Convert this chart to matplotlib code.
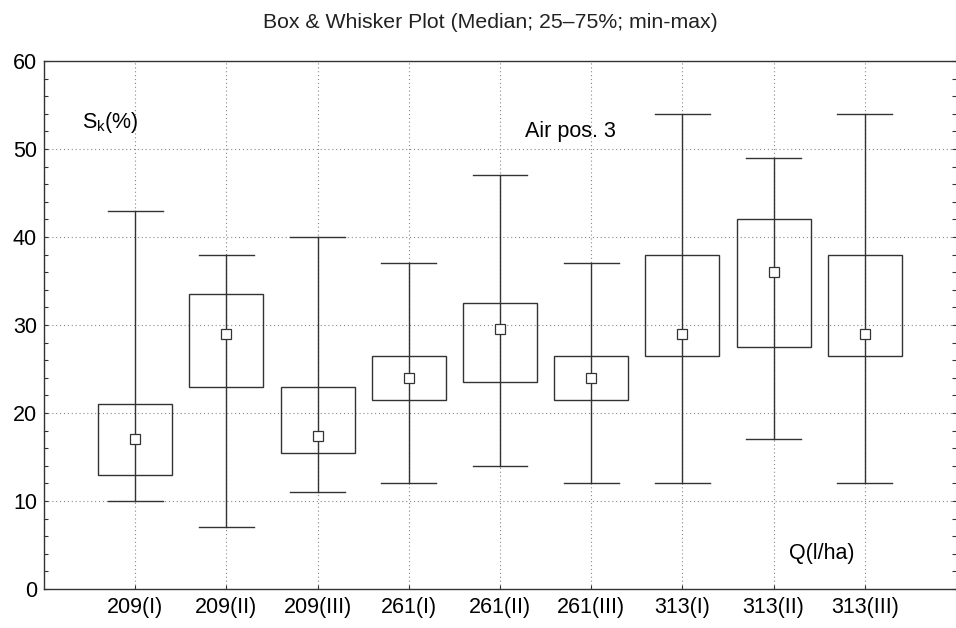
import matplotlib
matplotlib.use("Agg")
import matplotlib.pyplot as plt
from matplotlib.patches import Rectangle
from matplotlib.ticker import MultipleLocator

plt.rcParams['font.family'] = ['Liberation Sans', 'DejaVu Sans']

categories = ["209(I)", "209(II)", "209(III)", "261(I)", "261(II)", "261(III)",
              "313(I)", "313(II)", "313(III)"]
mins =    [10, 7, 11, 12, 14, 12, 12, 17, 12]
q1 =      [13, 23, 15.5, 21.5, 23.5, 21.5, 26.5, 27.5, 26.5]
medians = [17, 29, 17.4, 24, 29.5, 24, 29, 36, 29]
q3 =      [21, 33.5, 23, 26.5, 32.5, 26.5, 38, 42, 38]
maxs =    [43, 38, 40, 37, 47, 37, 54, 49, 54]

fig = plt.figure(figsize=(9.56, 6.28), dpi=100)
ax = fig.add_axes([44/956, 39/628, 912/956, 528/628])

col = "#333333"
xs = list(range(1, len(categories) + 1))
box_w = 0.81
cap_w = 0.6
for x, lo, a, m, b, hi in zip(xs, mins, q1, medians, q3, maxs):
    ax.plot([x, x], [lo, hi], color=col, lw=1.0, zorder=3)
    ax.plot([x - cap_w/2, x + cap_w/2], [lo, lo], color=col, lw=1.0, zorder=3)
    ax.plot([x - cap_w/2, x + cap_w/2], [hi, hi], color=col, lw=1.0, zorder=3)
    ax.add_patch(Rectangle((x - box_w/2, a), box_w, b - a, fill=False,
                           edgecolor=col, lw=1.0, zorder=3))
    ax.plot([x], [m], marker='s', markersize=7.5, markerfacecolor='white',
            markeredgecolor=col, markeredgewidth=0.9, zorder=4)

ax.set_xlim(0, 10)
ax.set_ylim(0, 60)
ax.set_xticks(xs)
ax.set_xticklabels(categories, fontsize=15.5)
ax.yaxis.set_major_locator(MultipleLocator(10))
ax.yaxis.set_minor_locator(MultipleLocator(2))
ax.tick_params(axis='y', which='both', direction='in', right=True, left=True,
               labelsize=15.5, length=3, width=0.8, color=col, pad=5)
ax.tick_params(axis='x', direction='in', length=3, width=0.8, color=col,
               labelsize=15.5, pad=6)
ax.grid(True, which='major', linestyle=(0, (1, 2.5)), color='#888888', lw=0.8, zorder=1)
for s in ['left', 'bottom', 'top']:
    ax.spines[s].set_color(col)
    ax.spines[s].set_linewidth(1.0)
ax.spines['right'].set_visible(False)

ax.text(0.42, 53, r"S$_\mathregular{k}$(%)", fontsize=15.5, ha='left', va='center')
ax.text(5.27, 52, "Air pos. 3", fontsize=15.5, ha='left', va='center')
ax.text(8.17, 4, "Q(l/ha)", fontsize=15.5, ha='left', va='center')

fig.text(490/956, 1 - 22/628, "Box & Whisker Plot (Median; 25–75%; min-max)",
         fontsize=15.3, ha='center', va='center', color='#222222')

fig.savefig("out.png", dpi=100)
